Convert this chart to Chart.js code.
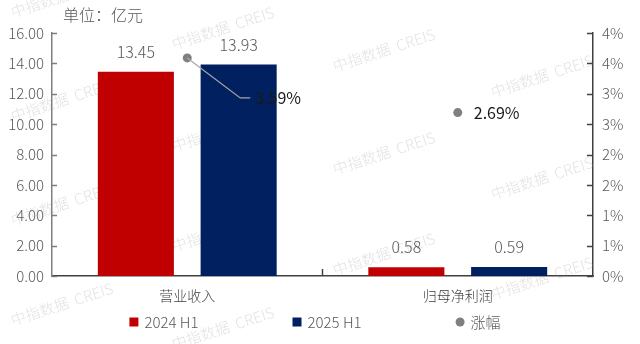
<!DOCTYPE html>
<html>
<head>
<meta charset="utf-8">
<script src="https://cdn.jsdelivr.net/npm/chart.js@4/dist/chart.umd.min.js"></script>
<style>
  html, body { margin: 0; padding: 0; background: #ffffff; }
  #wrap { width: 640px; height: 344px; position: relative; }
</style>
</head>
<body>
<div id="wrap"><canvas id="chart" width="640" height="344"></canvas></div>
<script>
// chart values
const categories = ['营业收入', '归母净利润'];
const series2024 = [13.45, 0.58];
const series2025 = [13.93, 0.59];
const growthPct = [3.59, 2.69];
const seriesNames = ['2024 H1', '2025 H1', '涨幅'];
const unitLabel = '单位：亿元';
const watermarkText = '中指数据  CREIS';

// axis ranges
const leftMin = 0, leftMax = 16, leftStep = 2;
const rightMin = 0, rightMax = 4, rightStep = 0.5;

const RED = '#c00000';
const NAVY = '#002060';
const GREY_PT = '#808080';
const TEXT = '#595959';
const FONT = '"Noto Sans CJK SC", "Noto Sans", sans-serif';
const LIGHT = '300 ';

Chart.defaults.font.family = FONT;
Chart.defaults.font.weight = '300';
Chart.defaults.color = TEXT;

// faint tiled watermark behind the bars
const watermarkPlugin = {
  id: 'watermark',
  beforeDatasetsDraw(chart) {
    const ctx = chart.ctx;
    const spots = [
      [13, 18], [13, 122], [13, 226], [13, 326],
      [174, 50], [174, 152], [174, 252], [174, 350],
      [335, -30], [335, 72], [335, 175], [335, 276],
      [493, -4], [493, 98], [493, 200], [493, 300]
    ];
    ctx.save();
    ctx.font = LIGHT + '15px ' + FONT;
    ctx.fillStyle = 'rgba(150,150,150,0.28)';
    ctx.textBaseline = 'alphabetic';
    spots.forEach(function (p) {
      ctx.save();
      ctx.translate(p[0], p[1]);
      ctx.rotate(-18 * Math.PI / 180);
      ctx.fillText(watermarkText, 0, 0);
      ctx.restore();
    });
    ctx.restore();
  }
};

// value labels, inward tick marks, unit text and legend
const decorPlugin = {
  id: 'decor',
  afterDatasetsDraw(chart) {
    const ctx = chart.ctx;
    ctx.save();

    // bar values
    ctx.font = LIGHT + '16px ' + FONT;
    ctx.fillStyle = TEXT;
    ctx.textAlign = 'center';
    ctx.textBaseline = 'middle';
    [0, 1].forEach(function (i) {
      const ds = chart.data.datasets[i];
      chart.getDatasetMeta(i).data.forEach(function (bar, j) {
        ctx.fillText(ds.data[j].toFixed(2), bar.x, bar.y - 20);
      });
    });

    // growth labels
    const pts = chart.getDatasetMeta(2).data;
    ctx.font = '16px ' + FONT;
    ctx.fillStyle = '#1a1a1a';
    ctx.textAlign = 'left';
    pts.forEach(function (pt, j) {
      const txt = growthPct[j].toFixed(2) + '%';
      if (j === 0) {
        ctx.strokeStyle = '#a6a6a6';
        ctx.lineWidth = 1.2;
        ctx.beginPath();
        ctx.moveTo(pt.x, pt.y);
        ctx.lineTo(pt.x + 53, pt.y + 40);
        ctx.lineTo(pt.x + 63, pt.y + 40);
        ctx.stroke();
        ctx.fillText(txt, pt.x + 68, pt.y + 40);
      } else {
        ctx.fillText(txt, pt.x + 16, pt.y);
      }
    });
    ctx.restore();
  },
  afterDraw(chart) {
    const ctx = chart.ctx;
    const area = chart.chartArea;
    const y = chart.scales.y, y1 = chart.scales.y1, x = chart.scales.x;
    ctx.save();

    // tick marks pointing into the plot
    ctx.lineWidth = 1.5;
    ctx.strokeStyle = '#7f7f7f';
    y.ticks.forEach(function (t) {
      const py = Math.round(y.getPixelForValue(t.value)) + 0.5;
      ctx.beginPath(); ctx.moveTo(area.left, py); ctx.lineTo(area.left + 5, py); ctx.stroke();
    });
    ctx.strokeStyle = '#404040';
    y1.ticks.forEach(function (t) {
      const py = Math.round(y1.getPixelForValue(t.value)) + 0.5;
      ctx.beginPath(); ctx.moveTo(area.right, py); ctx.lineTo(area.right - 6, py); ctx.stroke();
    });
    const mid = (x.getPixelForValue(0) + x.getPixelForValue(1)) / 2;
    ctx.beginPath(); ctx.moveTo(mid, area.bottom); ctx.lineTo(mid, area.bottom - 7); ctx.stroke();

    // unit text
    ctx.font = LIGHT + '16px ' + FONT;
    ctx.fillStyle = TEXT;
    ctx.textAlign = 'left';
    ctx.textBaseline = 'middle';
    ctx.fillText(unitLabel, 63, 15);

    // legend
    const items = [
      { text: seriesNames[0], color: RED, round: false },
      { text: seriesNames[1], color: NAVY, round: false },
      { text: seriesNames[2], color: GREY_PT, round: true }
    ];
    ctx.font = LIGHT + '15px ' + FONT;
    const box = 9, gap = 6, pad = 94, ly = 322;
    let total = 0;
    items.forEach(function (it, i) {
      it.w = box + gap + ctx.measureText(it.text).width;
      total += it.w + (i ? pad : 0);
    });
    let lx = 315 - total / 2;
    items.forEach(function (it) {
      ctx.fillStyle = it.color;
      if (it.round) {
        ctx.beginPath(); ctx.arc(lx + box / 2, ly, 4.5, 0, Math.PI * 2); ctx.fill();
      } else {
        ctx.fillRect(lx, ly - box / 2, box, box);
      }
      ctx.fillStyle = TEXT;
      ctx.fillText(it.text, lx + box + gap, ly);
      lx += it.w + pad;
    });
    ctx.restore();
  }
};

const ctx = document.getElementById('chart').getContext('2d');
const chart = new Chart(ctx, {
  type: 'bar',
  data: {
    labels: categories,
    datasets: [
      {
        label: seriesNames[0],
        data: series2024,
        backgroundColor: RED,
        yAxisID: 'y',
        order: 2,
        categoryPercentage: 0.76,
        barPercentage: 0.74
      },
      {
        label: seriesNames[1],
        data: series2025,
        backgroundColor: NAVY,
        yAxisID: 'y',
        order: 2,
        categoryPercentage: 0.76,
        barPercentage: 0.74
      },
      {
        type: 'line',
        label: seriesNames[2],
        data: growthPct,
        yAxisID: 'y1',
        showLine: false,
        pointRadius: 4.5,
        pointBackgroundColor: GREY_PT,
        pointBorderWidth: 0,
        order: 0
      }
    ]
  },
  options: {
    responsive: false,
    animation: false,
    layout: { padding: { top: 33, bottom: 38, left: 0, right: 0 } },
    plugins: {
      legend: { display: false },
      tooltip: { enabled: false }
    },
    scales: {
      x: {
        grid: { display: false, drawTicks: false },
        border: { display: true, color: '#404040', width: 1.5 },
        ticks: { padding: 11, color: '#404040', font: { size: 14 } },
        afterFit(scale) { scale.height = 30; }
      },
      y: {
        position: 'left',
        min: leftMin,
        max: leftMax,
        grid: { display: false, drawTicks: false },
        border: { display: true, color: '#7f7f7f', width: 1.5 },
        ticks: {
          stepSize: leftStep,
          padding: 8,
          font: { size: 15 },
          callback: function (v) { return Number(v).toFixed(2); }
        },
        afterFit(scale) { scale.width = 52; }
      },
      y1: {
        position: 'right',
        min: rightMin,
        max: rightMax,
        grid: { display: false, drawTicks: false },
        border: { display: true, color: '#404040', width: 1.5 },
        ticks: {
          stepSize: rightStep,
          padding: 9,
          font: { size: 15 },
          callback: function (v) { return Math.round(v) + '%'; }
        },
        afterFit(scale) { scale.width = 47; }
      }
    }
  },
  plugins: [watermarkPlugin, decorPlugin]
});
</script>
</body>
</html>
